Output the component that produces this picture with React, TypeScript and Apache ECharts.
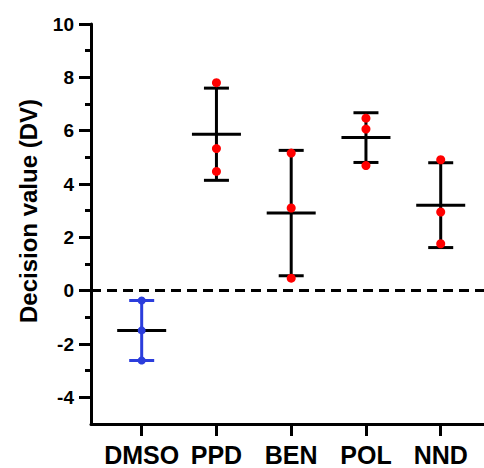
import React, { useEffect, useRef } from "react";
import * as echarts from "echarts";

const categories = ["DMSO", "PPD", "BEN", "POL", "NND"];
const dmsoValues = [-0.37, -1.49, -2.62];
const ppdValues = [7.8, 5.33, 4.47];
const benValues = [5.16, 3.1, 0.47];
const polValues = [6.47, 6.06, 4.69];
const nndValues = [4.91, 2.95, 1.76];
const groups = [dmsoValues, ppdValues, benValues, polValues, nndValues];
const yMajorTicks = [-4, -2, 0, 2, 4, 6, 8, 10];
const yMinorTicks = [-3, -1, 1, 3, 5, 7, 9];
const categoryPositions = [1, 2, 3, 4, 5];

const FONT = "'Liberation Sans', Arial, Helvetica, sans-serif";
const RED = "#ff0000";
const BLUE = "#2b3ddc";

function mean(a: number[]) {
  return a.reduce((s, v) => s + v, 0) / a.length;
}
function sd(a: number[]) {
  const m = mean(a);
  return Math.sqrt(a.reduce((s, v) => s + (v - m) * (v - m), 0) / (a.length - 1));
}

export default function App() {
  const ref = useRef<HTMLDivElement>(null);
  useEffect(() => {
    if (!ref.current) return;
    const chart = echarts.init(ref.current, null, { renderer: "svg" });

    const errData = groups.map((g, i) => {
      const m = mean(g);
      const s = sd(g);
      return [categoryPositions[i], m, m - s, m + s, i === 0 ? 1 : 0];
    });
    const redDots: number[][] = [];
    const blueDots: number[][] = [];
    groups.forEach((g, i) => {
      g.forEach((v) => {
        (i === 0 ? blueDots : redDots).push([categoryPositions[i], v]);
      });
    });

    const option: any = {
      animation: false,
      backgroundColor: "#ffffff",
      grid: { left: 91, right: 0, top: 24, bottom: 44, containLabel: false },
      xAxis: {
        type: "value",
        min: 0.322,
        max: 5.579,
        splitLine: { show: false },
        axisLine: { show: true, onZero: false, lineStyle: { color: "#000", width: 3 } },
        axisTick: {
          show: true,
          customValues: categoryPositions,
          length: 12,
          lineStyle: { color: "#000", width: 3 },
        },
        axisLabel: {
          customValues: categoryPositions,
          formatter: (v: number) => categories[Math.round(v) - 1] || "",
          color: "#000",
          fontFamily: FONT,
          fontWeight: "bold",
          fontSize: 25,
          margin: 18,
        },
      },
      yAxis: [
        {
          type: "value",
          min: -5,
          max: 10,
          interval: 1,
          splitLine: { show: false },
          axisLine: { show: true, onZero: false, lineStyle: { color: "#000", width: 3 } },
          axisTick: {
            show: true,
            customValues: yMajorTicks,
            length: 12,
            lineStyle: { color: "#000", width: 3 },
          },
          axisLabel: {
            customValues: yMajorTicks,
            color: "#000",
            fontFamily: FONT,
            fontWeight: "bold",
            fontSize: 19,
            margin: 17,
          },
        },
        {
          type: "value",
          min: -5,
          max: 10,
          interval: 1,
          position: "left",
          splitLine: { show: false },
          axisLine: { show: false },
          axisTick: {
            show: true,
            customValues: yMinorTicks,
            length: 6,
            lineStyle: { color: "#000", width: 3 },
          },
          axisLabel: { show: false },
        },
      ],
      graphic: [
        {
          type: "text",
          x: 28,
          y: 211,
          rotation: Math.PI / 2,
          style: {
            text: "Decision value (DV)",
            align: "center",
            verticalAlign: "middle",
            fontFamily: FONT,
            fontWeight: "bold",
            fontSize: 24,
            fill: "#000",
          },
        },
      ],
      series: [
        {
          type: "custom",
          z: 2,
          data: errData,
          encode: { x: 0, y: [1, 2, 3] },
          renderItem: (params: any, api: any) => {
            const x = api.value(0);
            const m = api.value(1);
            const lo = api.value(2);
            const hi = api.value(3);
            const blue = api.value(4) === 1;
            const c = blue ? BLUE : "#000";
            const pm = api.coord([x, m]);
            const pl = api.coord([x, lo]);
            const ph = api.coord([x, hi]);
            const lw = 3;
            return {
              type: "group",
              children: [
                {
                  type: "line",
                  shape: { x1: pm[0] - 24.5, y1: pm[1], x2: pm[0] + 24.5, y2: pm[1] },
                  style: { stroke: "#000", lineWidth: lw },
                },
                {
                  type: "line",
                  shape: { x1: pl[0], y1: pl[1], x2: ph[0], y2: ph[1] },
                  style: { stroke: c, lineWidth: lw },
                },
                {
                  type: "line",
                  shape: { x1: ph[0] - 12.5, y1: ph[1], x2: ph[0] + 12.5, y2: ph[1] },
                  style: { stroke: c, lineWidth: lw },
                },
                {
                  type: "line",
                  shape: { x1: pl[0] - 12.5, y1: pl[1], x2: pl[0] + 12.5, y2: pl[1] },
                  style: { stroke: c, lineWidth: lw },
                },
              ],
            };
          },
          markLine: {
            silent: true,
            symbol: ["none", "none"],
            label: { show: false },
            lineStyle: { color: "#000", width: 3, type: [10, 6] },
            data: [{ yAxis: 0 }],
          },
        },
        {
          type: "scatter",
          z: 3,
          data: redDots,
          symbol: "circle",
          symbolSize: 9,
          itemStyle: { color: RED, opacity: 1 },
        },
        {
          type: "scatter",
          z: 3,
          data: blueDots,
          symbol: "circle",
          symbolSize: 8,
          itemStyle: { color: BLUE, opacity: 1 },
        },
      ],
    };
    chart.setOption(option);
    return () => chart.dispose();
  }, []);
  return (
    <div
      ref={ref}
      style={{ position: "fixed", left: 0, top: 0, width: 484, height: 468, background: "#fff" }}
    />
  );
}
